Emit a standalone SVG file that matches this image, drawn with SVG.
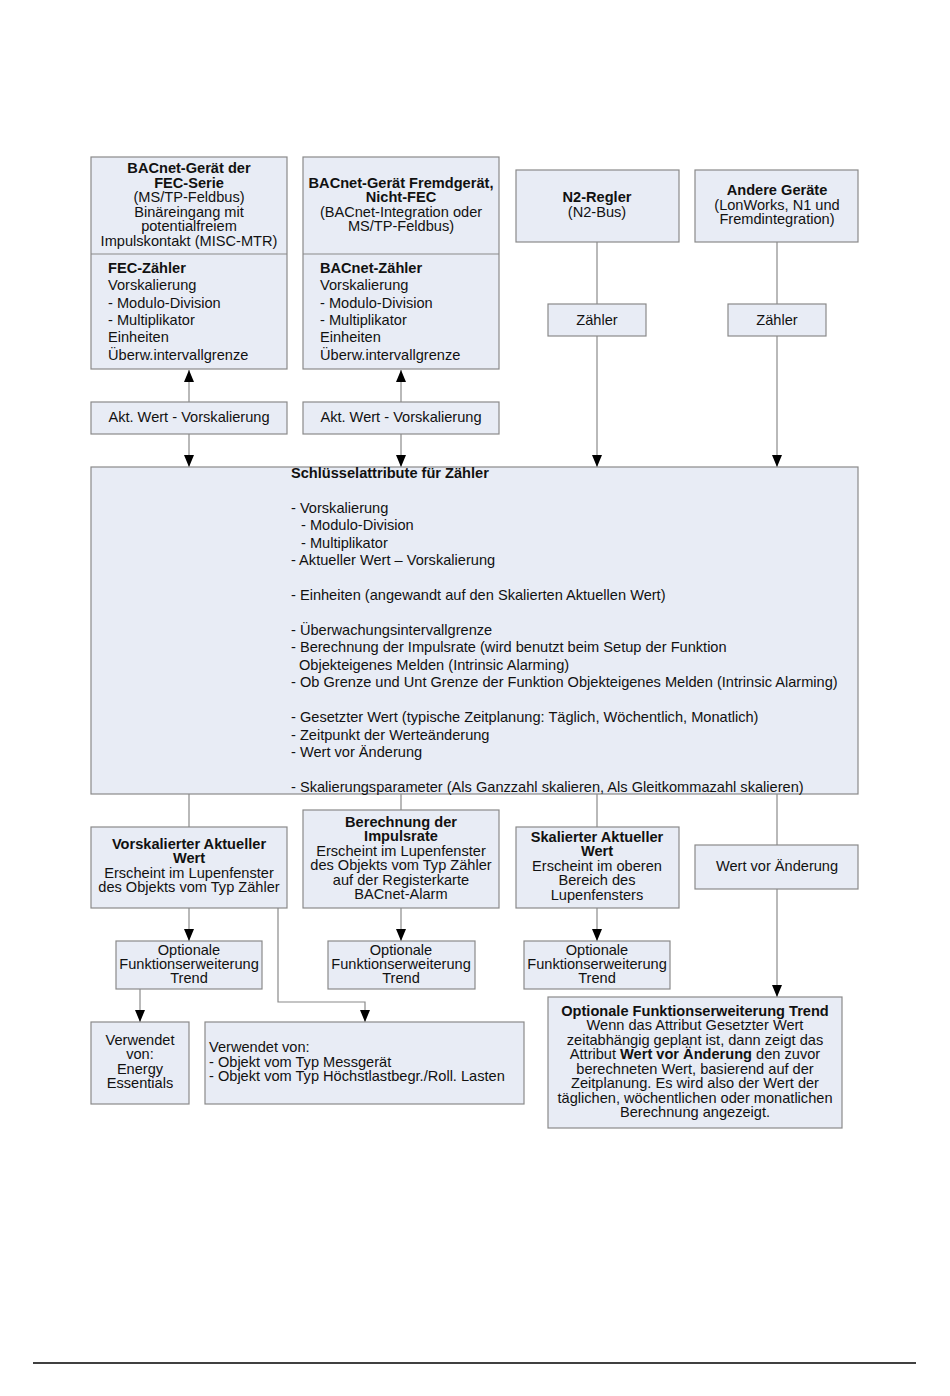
<svg xmlns="http://www.w3.org/2000/svg" width="950" height="1396" viewBox="0 0 950 1396">
<style>
.box{fill:#e8ecf5;stroke:#8a8a8a;stroke-width:1.2}
.ln{fill:none;stroke:#8a8a8a;stroke-width:1.2}
text{font-family:"Liberation Sans",Arial,sans-serif;font-size:14.6px;fill:#111}
.c{text-anchor:middle}
.b{font-weight:bold}
</style>
<defs>
<marker id="ad" markerUnits="userSpaceOnUse" markerWidth="10" markerHeight="12" viewBox="0 0 10 12" refX="5" refY="12" orient="0">
<path d="M0,0 L10,0 L5,12 Z" fill="#000"/>
</marker>
<marker id="au" markerUnits="userSpaceOnUse" markerWidth="10" markerHeight="12" viewBox="0 0 10 12" refX="5" refY="0" orient="0">
<path d="M5,0 L10,12 L0,12 Z" fill="#000"/>
</marker>
</defs>
<rect width="950" height="1396" fill="#fff"/>

<g id="connectors">
<line class="ln" x1="189" y1="402" x2="189" y2="370" marker-end="url(#au)"/>
<line class="ln" x1="401" y1="402" x2="401" y2="370" marker-end="url(#au)"/>
<line class="ln" x1="189" y1="434" x2="189" y2="467" marker-end="url(#ad)"/>
<line class="ln" x1="401" y1="434" x2="401" y2="467" marker-end="url(#ad)"/>
<line class="ln" x1="597" y1="242" x2="597" y2="304"/>
<line class="ln" x1="777" y1="242" x2="777" y2="304"/>
<line class="ln" x1="597" y1="336" x2="597" y2="467" marker-end="url(#ad)"/>
<line class="ln" x1="777" y1="336" x2="777" y2="467" marker-end="url(#ad)"/>
<line class="ln" x1="189" y1="794" x2="189" y2="827"/>
<line class="ln" x1="401" y1="794" x2="401" y2="810"/>
<line class="ln" x1="597" y1="794" x2="597" y2="827"/>
<line class="ln" x1="777" y1="794" x2="777" y2="845"/>
<line class="ln" x1="189" y1="908" x2="189" y2="941" marker-end="url(#ad)"/>
<line class="ln" x1="401" y1="908" x2="401" y2="941" marker-end="url(#ad)"/>
<line class="ln" x1="597" y1="908" x2="597" y2="941" marker-end="url(#ad)"/>
<line class="ln" x1="140" y1="989" x2="140" y2="1022" marker-end="url(#ad)"/>
<polyline class="ln" points="278,908 278,1002 365,1002 365,1022" marker-end="url(#ad)"/>
<line class="ln" x1="777" y1="889" x2="777" y2="997" marker-end="url(#ad)"/>
</g>

<g id="fec">
<rect class="box" x="91" y="157" width="196" height="212"/>
<line class="ln" x1="91" y1="254" x2="287" y2="254"/>
<text class="c b" x="189" y="173">BACnet-Gerät der</text>
<text class="c b" x="189" y="188">FEC-Serie</text>
<text class="c" x="189" y="202">(MS/TP-Feldbus)</text>
<text class="c" x="189" y="217">Binäreingang mit</text>
<text class="c" x="189" y="231">potentialfreiem</text>
<text class="c" x="189" y="246">Impulskontakt (MISC-MTR)</text>
<text class="b" x="108" y="273">FEC-Zähler</text>
<text x="108" y="290">Vorskalierung</text>
<text x="108" y="308">- Modulo-Division</text>
<text x="108" y="325">- Multiplikator</text>
<text x="108" y="342">Einheiten</text>
<text x="108" y="360">Überw.intervallgrenze</text>
</g>

<g id="bacnet">
<rect class="box" x="303" y="157" width="196" height="212"/>
<line class="ln" x1="303" y1="254" x2="499" y2="254"/>
<text class="c b" x="401" y="188">BACnet-Gerät Fremdgerät,</text>
<text class="c b" x="401" y="202">Nicht-FEC</text>
<text class="c" x="401" y="217">(BACnet-Integration oder</text>
<text class="c" x="401" y="231">MS/TP-Feldbus)</text>
<text class="b" x="320" y="273">BACnet-Zähler</text>
<text x="320" y="290">Vorskalierung</text>
<text x="320" y="308">- Modulo-Division</text>
<text x="320" y="325">- Multiplikator</text>
<text x="320" y="342">Einheiten</text>
<text x="320" y="360">Überw.intervallgrenze</text>
</g>

<g id="n2">
<rect class="box" x="516" y="170" width="163" height="72"/>
<text class="c b" x="597" y="202">N2-Regler</text>
<text class="c" x="597" y="217">(N2-Bus)</text>
</g>

<g id="andere">
<rect class="box" x="695" y="170" width="163" height="72"/>
<text class="c b" x="777" y="195">Andere Geräte</text>
<text class="c" x="777" y="210">(LonWorks, N1 und</text>
<text class="c" x="777" y="224">Fremdintegration)</text>
</g>

<g id="zaehler1">
<rect class="box" x="548" y="304" width="98" height="32"/>
<text class="c" x="597" y="325">Zähler</text>
</g>
<g id="zaehler2">
<rect class="box" x="728" y="304" width="98" height="32"/>
<text class="c" x="777" y="325">Zähler</text>
</g>

<g id="akt1">
<rect class="box" x="91" y="402" width="196" height="32"/>
<text class="c" x="189" y="422">Akt. Wert - Vorskalierung</text>
</g>
<g id="akt2">
<rect class="box" x="303" y="402" width="196" height="32"/>
<text class="c" x="401" y="422">Akt. Wert - Vorskalierung</text>
</g>

<g id="schluessel">
<rect class="box" x="91" y="467" width="767" height="327"/>
<text class="b" x="291" y="478">Schlüsselattribute für Zähler</text>
<text x="291" y="513">- Vorskalierung</text>
<text x="301" y="530">- Modulo-Division</text>
<text x="301" y="548">- Multiplikator</text>
<text x="291" y="565">- Aktueller Wert – Vorskalierung</text>
<text x="291" y="600">- Einheiten (angewandt auf den Skalierten Aktuellen Wert)</text>
<text x="291" y="635">- Überwachungsintervallgrenze</text>
<text x="291" y="652">- Berechnung der Impulsrate (wird benutzt beim Setup der Funktion</text>
<text x="299" y="670">Objekteigenes Melden (Intrinsic Alarming)</text>
<text x="291" y="687">- Ob Grenze und Unt Grenze der Funktion Objekteigenes Melden (Intrinsic Alarming)</text>
<text x="291" y="722">- Gesetzter Wert (typische Zeitplanung: Täglich, Wöchentlich, Monatlich)</text>
<text x="291" y="740">- Zeitpunkt der Werteänderung</text>
<text x="291" y="757">- Wert vor Änderung</text>
<text x="291" y="792">- Skalierungsparameter (Als Ganzzahl skalieren, Als Gleitkommazahl skalieren)</text>
</g>

<g id="vorskaliert">
<rect class="box" x="91" y="827" width="196" height="81"/>
<text class="c b" x="189" y="849">Vorskalierter Aktueller</text>
<text class="c b" x="189" y="863">Wert</text>
<text class="c" x="189" y="878">Erscheint im Lupenfenster</text>
<text class="c" x="189" y="892">des Objekts vom Typ Zähler</text>
</g>

<g id="impulsrate">
<rect class="box" x="303" y="810" width="196" height="98"/>
<text class="c b" x="401" y="827">Berechnung der</text>
<text class="c b" x="401" y="841">Impulsrate</text>
<text class="c" x="401" y="856">Erscheint im Lupenfenster</text>
<text class="c" x="401" y="870">des Objekts vom Typ Zähler</text>
<text class="c" x="401" y="885">auf der Registerkarte</text>
<text class="c" x="401" y="899">BACnet-Alarm</text>
</g>

<g id="skaliert">
<rect class="box" x="516" y="827" width="163" height="81"/>
<text class="c b" x="597" y="842">Skalierter Aktueller</text>
<text class="c b" x="597" y="856">Wert</text>
<text class="c" x="597" y="871">Erscheint im oberen</text>
<text class="c" x="597" y="885">Bereich des</text>
<text class="c" x="597" y="900">Lupenfensters</text>
</g>

<g id="wertvor">
<rect class="box" x="695" y="845" width="163" height="44"/>
<text class="c" x="777" y="871">Wert vor Änderung</text>
</g>

<g id="trend1">
<rect class="box" x="116" y="941" width="146" height="48"/>
<text class="c" x="189" y="955">Optionale</text>
<text class="c" x="189" y="969">Funktionserweiterung</text>
<text class="c" x="189" y="983">Trend</text>
</g>
<g id="trend2">
<rect class="box" x="328" y="941" width="147" height="48"/>
<text class="c" x="401" y="955">Optionale</text>
<text class="c" x="401" y="969">Funktionserweiterung</text>
<text class="c" x="401" y="983">Trend</text>
</g>
<g id="trend3">
<rect class="box" x="524" y="941" width="146" height="48"/>
<text class="c" x="597" y="955">Optionale</text>
<text class="c" x="597" y="969">Funktionserweiterung</text>
<text class="c" x="597" y="983">Trend</text>
</g>

<g id="energy">
<rect class="box" x="91" y="1022" width="98" height="82"/>
<text class="c" x="140" y="1045">Verwendet</text>
<text class="c" x="140" y="1059">von:</text>
<text class="c" x="140" y="1074">Energy</text>
<text class="c" x="140" y="1088">Essentials</text>
</g>

<g id="verwendet">
<rect class="box" x="205" y="1022" width="319" height="82"/>
<text x="209" y="1052">Verwendet von:</text>
<text x="209" y="1067">- Objekt vom Typ Messgerät</text>
<text x="209" y="1081">- Objekt vom Typ Höchstlastbegr./Roll. Lasten</text>
</g>

<g id="trendfinal">
<rect class="box" x="548" y="997" width="294" height="131"/>
<text class="c b" x="695" y="1016">Optionale Funktionserweiterung Trend</text>
<text class="c" x="695" y="1030">Wenn das Attribut Gesetzter Wert</text>
<text class="c" x="695" y="1045">zeitabhängig geplant ist, dann zeigt das</text>
<text class="c" x="695" y="1059">Attribut <tspan class="b">Wert vor Änderung</tspan> den zuvor</text>
<text class="c" x="695" y="1074">berechneten Wert, basierend auf der</text>
<text class="c" x="695" y="1088">Zeitplanung. Es wird also der Wert der</text>
<text class="c" x="695" y="1103">täglichen, wöchentlichen oder monatlichen</text>
<text class="c" x="695" y="1117">Berechnung angezeigt.</text>
</g>

<line x1="33" y1="1363" x2="916" y2="1363" stroke="#000" stroke-width="1.5"/>
</svg>
